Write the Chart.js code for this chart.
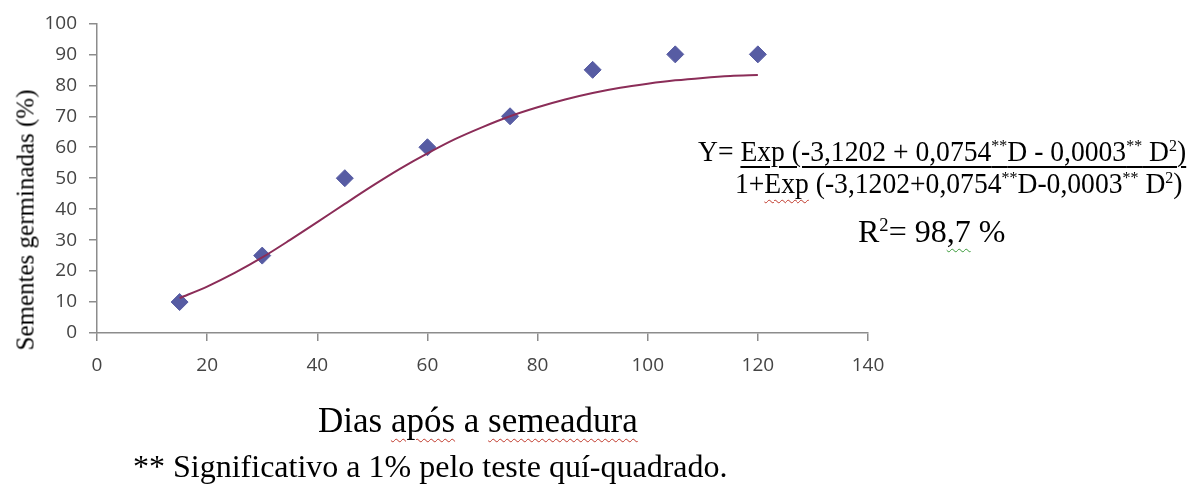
<html lang="pt">
<head>
  <meta charset="UTF-8">
  <title>Sementes germinadas</title>
  <script src="https://cdn.jsdelivr.net/npm/chart.js"></script>
  <style>
    body { margin: 0; background: #fff; }
    #wrap { position: relative; width: 1193px; height: 486px; overflow: hidden; }
    .txt { position: absolute; font-family: "Liberation Serif", "Times New Roman", serif; color: #000; white-space: nowrap; line-height: 1; }
    .wavy { text-decoration: underline wavy #c0392b; text-decoration-thickness: 1px; text-underline-offset: 6px; }
    .wavyg { text-decoration: underline wavy #3a9a3a; text-decoration-thickness: 1px; text-underline-offset: 6px; }
    sup { font-size: 0.58em; line-height: 0; vertical-align: 0.6em; }
  </style>
  <script>
    // observed data
    const days = [15, 30, 45, 60, 75, 90, 105, 120]
    const germinated = [10, 25, 50, 60, 70, 85, 90, 90]

    // fitted curve
    const curveDays = [15, 20, 25, 30, 35, 40, 45, 50, 55, 60, 65, 70, 75, 80, 85, 90, 95, 100, 105, 110, 115, 120]
    const curveValues = [11.3, 15, 19.4, 24.4, 30, 35.8, 41.7, 47.5, 53, 58, 62.6, 66.5, 70, 72.9, 75.4, 77.5, 79.2, 80.5, 81.6, 82.4, 83, 83.3]

    const xTicks = [0, 20, 40, 60, 80, 100, 120, 140]
    const yTicks = [0, 10, 20, 30, 40, 50, 60, 70, 80, 90, 100]

    window.onload = () => {
      const chart = document.getElementById('chart')
      const axisColor = '#8c8c8c'
      const tickFont = { family: 'Open Sans', size: 19 }

      new Chart(chart, {
        type: 'scatter',
        data: {
          datasets: [{
            label: 'Curva ajustada',
            data: curveDays.map((d, i) => ({ x: d, y: curveValues[i] })),
            showLine: true,
            borderColor: '#8b2d58',
            borderWidth: 2,
            pointRadius: 0,
            tension: 0.3
          }, {
            label: 'Observado',
            data: days.map((d, i) => ({ x: d, y: germinated[i] })),
            showLine: false,
            pointStyle: 'rectRot',
            pointRadius: 8.5,
            backgroundColor: '#575ca3',
            borderColor: '#575ca3',
            borderWidth: 1
          }]
        },
        options: {
          responsive: false,
          animation: false,
          layout: { padding: { top: 20, right: 325, left: 0, bottom: 113 } },
          plugins: { legend: { display: false }, tooltip: { enabled: false } },
          scales: {
            x: {
              type: 'linear',
              min: xTicks[0],
              max: xTicks[xTicks.length - 1],
              afterBuildTicks: s => { s.ticks = xTicks.map(v => ({ value: v })) },
              afterFit: s => { s.height = 40 },
              grid: { drawOnChartArea: false, drawTicks: true, tickLength: 8, color: axisColor, lineWidth: 1.5 },
              border: { color: axisColor, width: 1.5 },
              ticks: { font: tickFont, color: '#444', padding: 13, maxRotation: 0 }
            },
            y: {
              type: 'linear',
              min: yTicks[0],
              max: yTicks[yTicks.length - 1],
              afterBuildTicks: s => { s.ticks = yTicks.map(v => ({ value: v })) },
              afterFit: s => { s.width = 97 },
              grid: { drawOnChartArea: false, drawTicks: true, tickLength: 8, color: axisColor, lineWidth: 1.5 },
              border: { color: axisColor, width: 1.5 },
              ticks: { font: tickFont, color: '#444', padding: 12 }
            }
          }
        }
      })
    }
  </script>
</head>
<body>
  <div id="wrap">
    <canvas id="chart" width="1193" height="486"></canvas>

    <div class="txt" style="left:25px; top:220px; font-size:25px; transform: translate(-50%, -50%) rotate(-90deg);">Sementes germinadas (%)</div>

    <div class="txt" style="left:318px; top:403px; font-size:35px;">Dias <span class="wavy">após</span> a <span class="wavy">semeadura</span></div>

    <div class="txt" style="left:133px; top:450px; font-size:32px;">** Significativo a 1% pelo teste quí-quadrado.</div>

    <div class="txt" style="left:698px; top:136px; font-size:30px; transform-origin: left top; transform: scaleX(0.92);">Y= <span style="text-decoration: underline; text-decoration-thickness: 2px; text-underline-offset: 5px;">Exp (-3,1202 + 0,0754<sup>**</sup>D - 0,0003<sup>**</sup> D<sup>2</sup>)</span></div>

    <div class="txt" style="left:735px; top:168px; font-size:30px; transform-origin: left top; transform: scaleX(0.92);">1+<span class="wavy">Exp</span> (-3,1202+0,0754<sup>**</sup>D-0,0003<sup>**</sup> D<sup>2</sup>)</div>

    <div class="txt" style="left:858px; top:215px; font-size:32px;">R<sup>2</sup>= 98<span class="wavyg">,7</span> %</div>
  </div>
</body>
</html>
